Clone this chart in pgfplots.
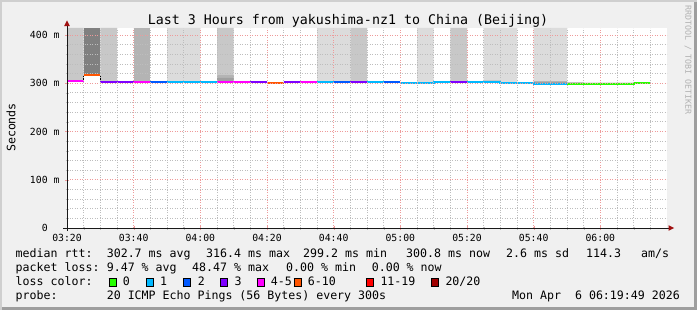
\documentclass[border=0pt]{standalone}
\usepackage{pgfplots}
\pgfplotsset{compat=1.18}
\usepackage{fontspec}
\setmainfont{DejaVu Sans Mono}
\definecolor{bgc}{HTML}{F0F0F0}
\definecolor{shadea}{HTML}{CFCFCF}
\definecolor{shadeb}{HTML}{9E9E9E}
\definecolor{lc0}{HTML}{26FF00}
\definecolor{lc1}{HTML}{00B8FF}
\definecolor{lc2}{HTML}{0059FF}
\definecolor{lc3}{HTML}{7E00FF}
\definecolor{lc5}{HTML}{FF00FF}
\definecolor{lc10}{HTML}{FF5500}
\definecolor{lc19}{HTML}{FF0000}
\definecolor{lc20}{HTML}{A00000}
\definecolor{sm1}{HTML}{DCDCDC}
\definecolor{sm2}{HTML}{C8C8C8}
\definecolor{sm3}{HTML}{B4B4B4}
\definecolor{sm4}{HTML}{A0A0A0}
\definecolor{sm5}{HTML}{808080}
\definecolor{smb}{HTML}{C0C0C0}
\definecolor{mgrid}{HTML}{EE9A9A}
\definecolor{mingrid}{HTML}{BDBDBD}
\definecolor{arrowc}{HTML}{A01010}
\newcommand{\swatch}[1]{{\setlength{\fboxsep}{0pt}\setlength{\fboxrule}{0.8bp}\fcolorbox{black}{#1}{\rule{0pt}{6.4bp}\hspace{6.4bp}}}}
\newcommand{\lf}{\fontsize{11.6bp}{13bp}\selectfont}
\begin{document}
\begin{tikzpicture}[x=1bp,y=1bp]
\fill[bgc] (0,0) rectangle (697,310);
\useasboundingbox (0,0) rectangle (697,310);
\fill[shadea] (0,308) rectangle (697,310);
\fill[shadea] (0,0) rectangle (2,310);
\fill[shadeb] (694,0) rectangle (697,308);
\fill[shadeb] (2,0) rectangle (697,3);
\begin{axis}[
  at={(67bp,82bp)}, anchor=south west,
  scale only axis, width=600bp, height=200bp,
  xmin=0, xmax=180, ymin=0, ymax=414.5,
  axis background/.style={fill=white},
  axis on top,
  axis line style={draw=none},
  xtick={0,20,...,160},
  xticklabels={03:20,03:40,04:00,04:20,04:40,05:00,05:20,05:40,06:00},
  minor xtick={5,10,15,25,30,35,45,50,55,65,70,75,85,90,95,105,110,115,125,130,135,145,150,155,165,170,175},
  ytick={0,100,200,300,400},
  yticklabels={0\hphantom{\ m},100 m,200 m,300 m,400 m},
  minor ytick={20,40,60,80,120,140,160,180,220,240,260,280,320,340,360,380},
  grid=both,
  major grid style={draw=mgrid, dash pattern=on 1bp off 1.5bp, line width=0.8bp},
  minor grid style={draw=mingrid, dash pattern=on 1bp off 1.5bp, line width=0.8bp},
  tick pos=left,
  tick align=center,
  major tick length=4bp, minor tick length=3bp,
  major tick style={draw=mgrid},
  minor tick style={draw=mingrid},
  tick label style={font=\fontsize{9.8bp}{11bp}\selectfont},
  xticklabel style={yshift=-1bp},
  yticklabel style={xshift=-2bp},
]
% smoke columns (full height)
\addplot[ybar, bar width=5, bar shift=0pt, fill=sm2, draw=none] coordinates {(2.5,414.5) (12.5,414.5) (47.5,414.5) (87.5,414.5) (117.5,414.5)};
\addplot[ybar, bar width=5, bar shift=0pt, fill=sm5, draw=none] coordinates {(7.5,414.5)};
\addplot[ybar, bar width=5, bar shift=0pt, fill=sm3, draw=none] coordinates {(22.5,414.5)};
\addplot[ybar, bar width=5, bar shift=0pt, fill=sm1, draw=none] coordinates {(32.5,414.5) (37.5,414.5) (77.5,414.5) (82.5,414.5) (107.5,414.5) (127.5,414.5) (132.5,414.5) (142.5,414.5) (147.5,414.5)};
% denser smoke near the median
\addplot[ybar, bar width=5, bar shift=0pt, fill=sm3, draw=none] coordinates {(47.5,317)};
\addplot[ybar, bar width=5, bar shift=0pt, fill=sm4, draw=none] coordinates {(47.5,311) (127.5,305.5) (142.5,304) (147.5,304) (152.5,302)};
\addplot[ybar, bar width=5, bar shift=0pt, fill=smb, draw=none] coordinates {(157.5,301.5) (162.5,301.5) (167.5,301.5)};
% below the median: white
\addplot[const plot, fill=white, draw=none] coordinates {
(0,305) (5,316.4) (10,302.6) (15,302.6) (20,302.6) (25,302.6) (30,302.6) (35,302.6) (40,302.6)
(45,302.6) (50,302.6) (55,302.6) (60,300.5) (65,302.6) (70,302.6) (75,302.6) (80,302.6) (85,302.6)
(90,302.6) (95,302.6) (100,300.5) (105,300.5) (110,302.6) (115,302.6) (120,302.6) (125,302.6) (130,300.5)
(135,300.5) (140,299.2) (145,299.2) (150,299.2) (155,299.2) (160,299.2) (165,299.2) (170,300.8) (175,300.8)} \closedcycle;
% thin black median
\addplot[const plot, draw=black, line width=0.8bp] coordinates {
(0,305) (5,316.4) (10,302.6) (15,302.6) (20,302.6) (25,302.6) (30,302.6) (35,302.6) (40,302.6)
(45,302.6) (50,302.6) (55,302.6) (60,300.5) (65,302.6) (70,302.6) (75,302.6) (80,302.6) (85,302.6)
(90,302.6) (95,302.6) (100,300.5) (105,300.5) (110,302.6) (115,302.6) (120,302.6) (125,302.6) (130,300.5)
(135,300.5) (140,299.2) (145,299.2) (150,299.2) (155,299.2) (160,299.2) (165,299.2) (170,300.8) (175,300.8)};
% median coloured by loss
\addplot[lc5, line width=2bp, unbounded coords=jump] coordinates {(0,305) (5,305) (5,nan) (20,302.6) (25,302.6) (25,nan) (45,302.6) (55,302.6) (55,nan) (70,302.6) (75,302.6)};
\addplot[lc10, line width=2bp, unbounded coords=jump] coordinates {(5,316.4) (10,316.4) (10,nan) (60,300.5) (65,300.5)};
\addplot[lc3, line width=2bp, unbounded coords=jump] coordinates {(10,302.6) (20,302.6) (20,nan) (55,302.6) (60,302.6) (60,nan) (65,302.6) (70,302.6) (70,nan) (85,302.6) (90,302.6) (90,nan) (115,302.6) (120,302.6)};
\addplot[lc2, line width=2bp, unbounded coords=jump] coordinates {(25,302.6) (30,302.6) (30,nan) (80,302.6) (85,302.6) (85,nan) (95,302.6) (100,302.6)};
\addplot[lc1, line width=2bp, unbounded coords=jump] coordinates {(30,302.6) (45,302.6) (45,nan) (75,302.6) (80,302.6) (80,nan) (90,302.6) (95,302.6) (95,nan) (100,300.5) (110,300.5) (110,302.6) (115,302.6) (115,nan) (120,302.6) (130,302.6) (130,300.5) (140,300.5) (140,299.2) (150,299.2)};
\addplot[lc0, line width=2bp, unbounded coords=jump] coordinates {(150,299.2) (170,299.2) (170,300.8) (175,300.8)};
\end{axis}
% axes with arrows
\draw[black!90, line width=1bp] (67,79) -- (67,285);
\fill[arrowc] (67,289.5) -- (64.2,284) -- (69.8,284) -- cycle;
\draw[black!90, line width=1bp] (63,82) -- (669,82);
\fill[arrowc] (674,82) -- (668.5,84.8) -- (668.5,79.2) -- cycle;
% title and labels
\node[anchor=base, inner sep=0] at (348,286) {\fontsize{13.3bp}{15bp}\selectfont Last 3 Hours from yakushima-nz1 to China (Beijing)};
\node[rotate=90, anchor=center, inner sep=0] at (11,182.5) {\lf Seconds};
\node[rotate=-90, anchor=center, inner sep=0, text=black!30] at (688,250) {\fontsize{8.3bp}{9bp}\selectfont RRDTOOL / TOBI OETIKER};
% legend text
\begin{scope}[every node/.style={anchor=base west, inner sep=0}]
\node at (15.5,52.5) {\lf median rtt:};
\node at (106.6,52.5) {\lf 302.7 ms avg};
\node at (206,52.5) {\lf 316.4 ms max};
\node at (303,52.5) {\lf 299.2 ms min};
\node at (406,52.5) {\lf 300.8 ms now};
\node at (506,52.5) {\lf 2.6 ms sd};
\node at (586,52.5) {\lf 114.3};
\node at (641,52.5) {\lf am/s};
\node at (15.5,38.5) {\lf packet loss:};
\node at (106.6,38.5) {\lf 9.47 \% avg};
\node at (192,38.5) {\lf 48.47 \% max};
\node at (286,38.5) {\lf 0.00 \% min};
\node at (371.6,38.5) {\lf 0.00 \% now};
\node at (15.5,24.5) {\lf loss color:};
\node at (108.3,24.5) {\swatch{lc0}}; \node at (122.6,24.5) {\lf 0};
\node at (145.7,24.5) {\swatch{lc1}}; \node at (160,24.5) {\lf 1};
\node at (182.7,24.5) {\swatch{lc2}}; \node at (197.6,24.5) {\lf 2};
\node at (220,24.5) {\swatch{lc3}}; \node at (234.3,24.5) {\lf 3};
\node at (256.7,24.5) {\swatch{lc5}}; \node at (270.6,24.5) {\lf 4-5};
\node at (293.3,24.5) {\swatch{lc10}}; \node at (307.6,24.5) {\lf 6-10};
\node at (365.7,24.5) {\swatch{lc19}}; \node at (380.3,24.5) {\lf 11-19};
\node at (430.7,24.5) {\swatch{lc20}}; \node at (445.3,24.5) {\lf 20/20};
\node at (15.5,10.5) {\lf probe:};
\node at (106.6,10.5) {\lf 20 ICMP Echo Pings (56 Bytes) every 300s};
\node at (512,10.5) {\lf Mon Apr\ \ 6 06:19:49 2026};
\end{scope}
\end{tikzpicture}
\end{document}
